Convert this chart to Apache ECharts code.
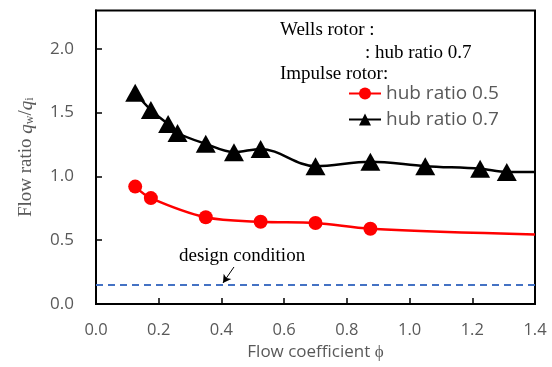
<!DOCTYPE html>
<html>
<head>
<meta charset="utf-8">
<script src="https://cdn.jsdelivr.net/npm/echarts@6/dist/echarts.min.js"></script>
<style>html,body{margin:0;padding:0;background:#fff;}#c{width:552px;height:367px;}</style>
</head>
<body>
<div id="c"></div>
<script>
// Impulse rotor, hub ratio 0.7 (triangles)
const hub07X = [0.125, 0.175, 0.23, 0.26, 0.35, 0.44, 0.525, 0.70, 0.875, 1.05, 1.225, 1.31, 1.4];
const hub07Y = [1.655, 1.52, 1.41, 1.34, 1.255, 1.19, 1.215, 1.08, 1.115, 1.08, 1.06, 1.035, 1.035];
// Impulse rotor, hub ratio 0.5 (circles)
const hub05X = [0.125, 0.175, 0.35, 0.525, 0.70, 0.875, 1.4];
const hub05Y = [0.92, 0.83, 0.68, 0.645, 0.635, 0.59, 0.545];
// Design condition (dashed line)
const designY = 0.15;
const arrowFrom = [0.44, 0.29];
const arrowTo = [0.405, 0.165];
const xTicks = [0, 0.2, 0.4, 0.6, 0.8, 1.0, 1.2, 1.4];
const yTicks = [0, 0.5, 1.0, 1.5, 2.0];

function pts(xs, ys) {
  return xs.map((x, i) => {
    const d = { value: [x, ys[i]] };
    if (i === xs.length - 1) d.symbol = 'none';
    return d;
  });
}

const chart = echarts.init(document.getElementById('c'));
chart.setOption({
  animation: false,
  grid: { left: 96, right: 17, top: 10.5, bottom: 63, show: true, borderColor: '#000', borderWidth: 2, containLabel: false },
  legend: {
    orient: 'vertical', left: 348, top: 84, padding: 0, itemWidth: 32, itemHeight: 15, itemGap: 7,
    textStyle: { fontFamily: 'Open Sans', fontSize: 19, color: '#595959' },
    data: ['hub ratio 0.5', 'hub ratio 0.7']
  },
  xAxis: {
    type: 'value', min: 0, max: 1.4, interval: 0.2,
    axisLine: { lineStyle: { color: '#000', width: 2 } },
    axisTick: { inside: true, length: 6, lineStyle: { color: '#000', width: 1.5 } },
    splitLine: { show: false },
    axisLabel: { margin: 18, fontFamily: 'Open Sans', fontSize: 16.5, color: '#595959', formatter: v => v.toFixed(1) },
    name: 'Flow coefficient ϕ', nameLocation: 'middle', nameGap: 37,
    nameTextStyle: { fontFamily: 'Open Sans', fontSize: 17, color: '#595959' }
  },
  yAxis: {
    type: 'value', min: 0, max: 2.3, interval: 0.5,
    axisLine: { lineStyle: { color: '#000', width: 2 } },
    axisTick: { inside: true, length: 6, lineStyle: { color: '#000', width: 1.5 } },
    splitLine: { show: false },
    axisLabel: { margin: 22, showMaxLabel: false, fontFamily: 'Open Sans', fontSize: 17, color: '#595959', formatter: v => v.toFixed(1) },
    name: '{n|Flow ratio }{q|q}{s|w}{n|/}{q|q}{s|i}', nameLocation: 'middle', nameGap: 60, nameRotate: 90,
    nameTextStyle: {
      fontFamily: 'Liberation Serif', fontSize: 19, color: '#595959',
      rich: {
        n: { fontFamily: 'Liberation Serif', fontSize: 19, color: '#595959' },
        q: { fontFamily: 'Liberation Serif', fontStyle: 'italic', fontSize: 19, color: '#595959' },
        s: { fontFamily: 'Liberation Serif', fontSize: 12, color: '#595959', verticalAlign: 'bottom', padding: [6, 0, 0, 0] }
      }
    }
  },
  series: [
    {
      name: 'hub ratio 0.5', type: 'line', smooth: 0.35,
      data: pts(hub05X, hub05Y),
      symbol: 'circle', symbolSize: 14,
      lineStyle: { color: '#ff0000', width: 2.5 },
      itemStyle: { color: '#ff0000' },
      z: 3
    },
    {
      name: 'hub ratio 0.7', type: 'line', smooth: 0.35,
      data: pts(hub07X, hub07Y),
      symbol: 'triangle', symbolSize: [20, 18],
      lineStyle: { color: '#000', width: 2.5 },
      itemStyle: { color: '#000' },
      z: 3
    },
    {
      name: 'design', type: 'line', data: [],
      markLine: {
        silent: true, symbol: 'none', label: { show: false },
        lineStyle: { color: '#4472C4', type: [7, 5], width: 1.8 },
        data: [{ yAxis: designY }]
      }
    },
    {
      name: 'arrow', type: 'line', data: [],
      markLine: {
        silent: true, symbol: ['none', 'arrow'], symbolSize: [7, 8], label: { show: false },
        lineStyle: { color: '#000', type: 'solid', width: 1 },
        data: [[{ coord: arrowFrom }, { coord: arrowTo }]]
      }
    }
  ],
  graphic: [
    { type: 'text', left: 280, top: 21, style: { text: 'Wells rotor :', font: '19px "Liberation Serif"', fill: '#000' } },
    { type: 'text', left: 365, top: 44, style: { text: ': hub ratio 0.7', font: '19px "Liberation Serif"', fill: '#000' } },
    { type: 'text', left: 280, top: 65, style: { text: 'Impulse rotor:', font: '19px "Liberation Serif"', fill: '#000' } },
    { type: 'text', left: 179, top: 247, style: { text: 'design condition', font: '19px "Liberation Serif"', fill: '#000' } }
  ]
});
</script>
</body>
</html>
